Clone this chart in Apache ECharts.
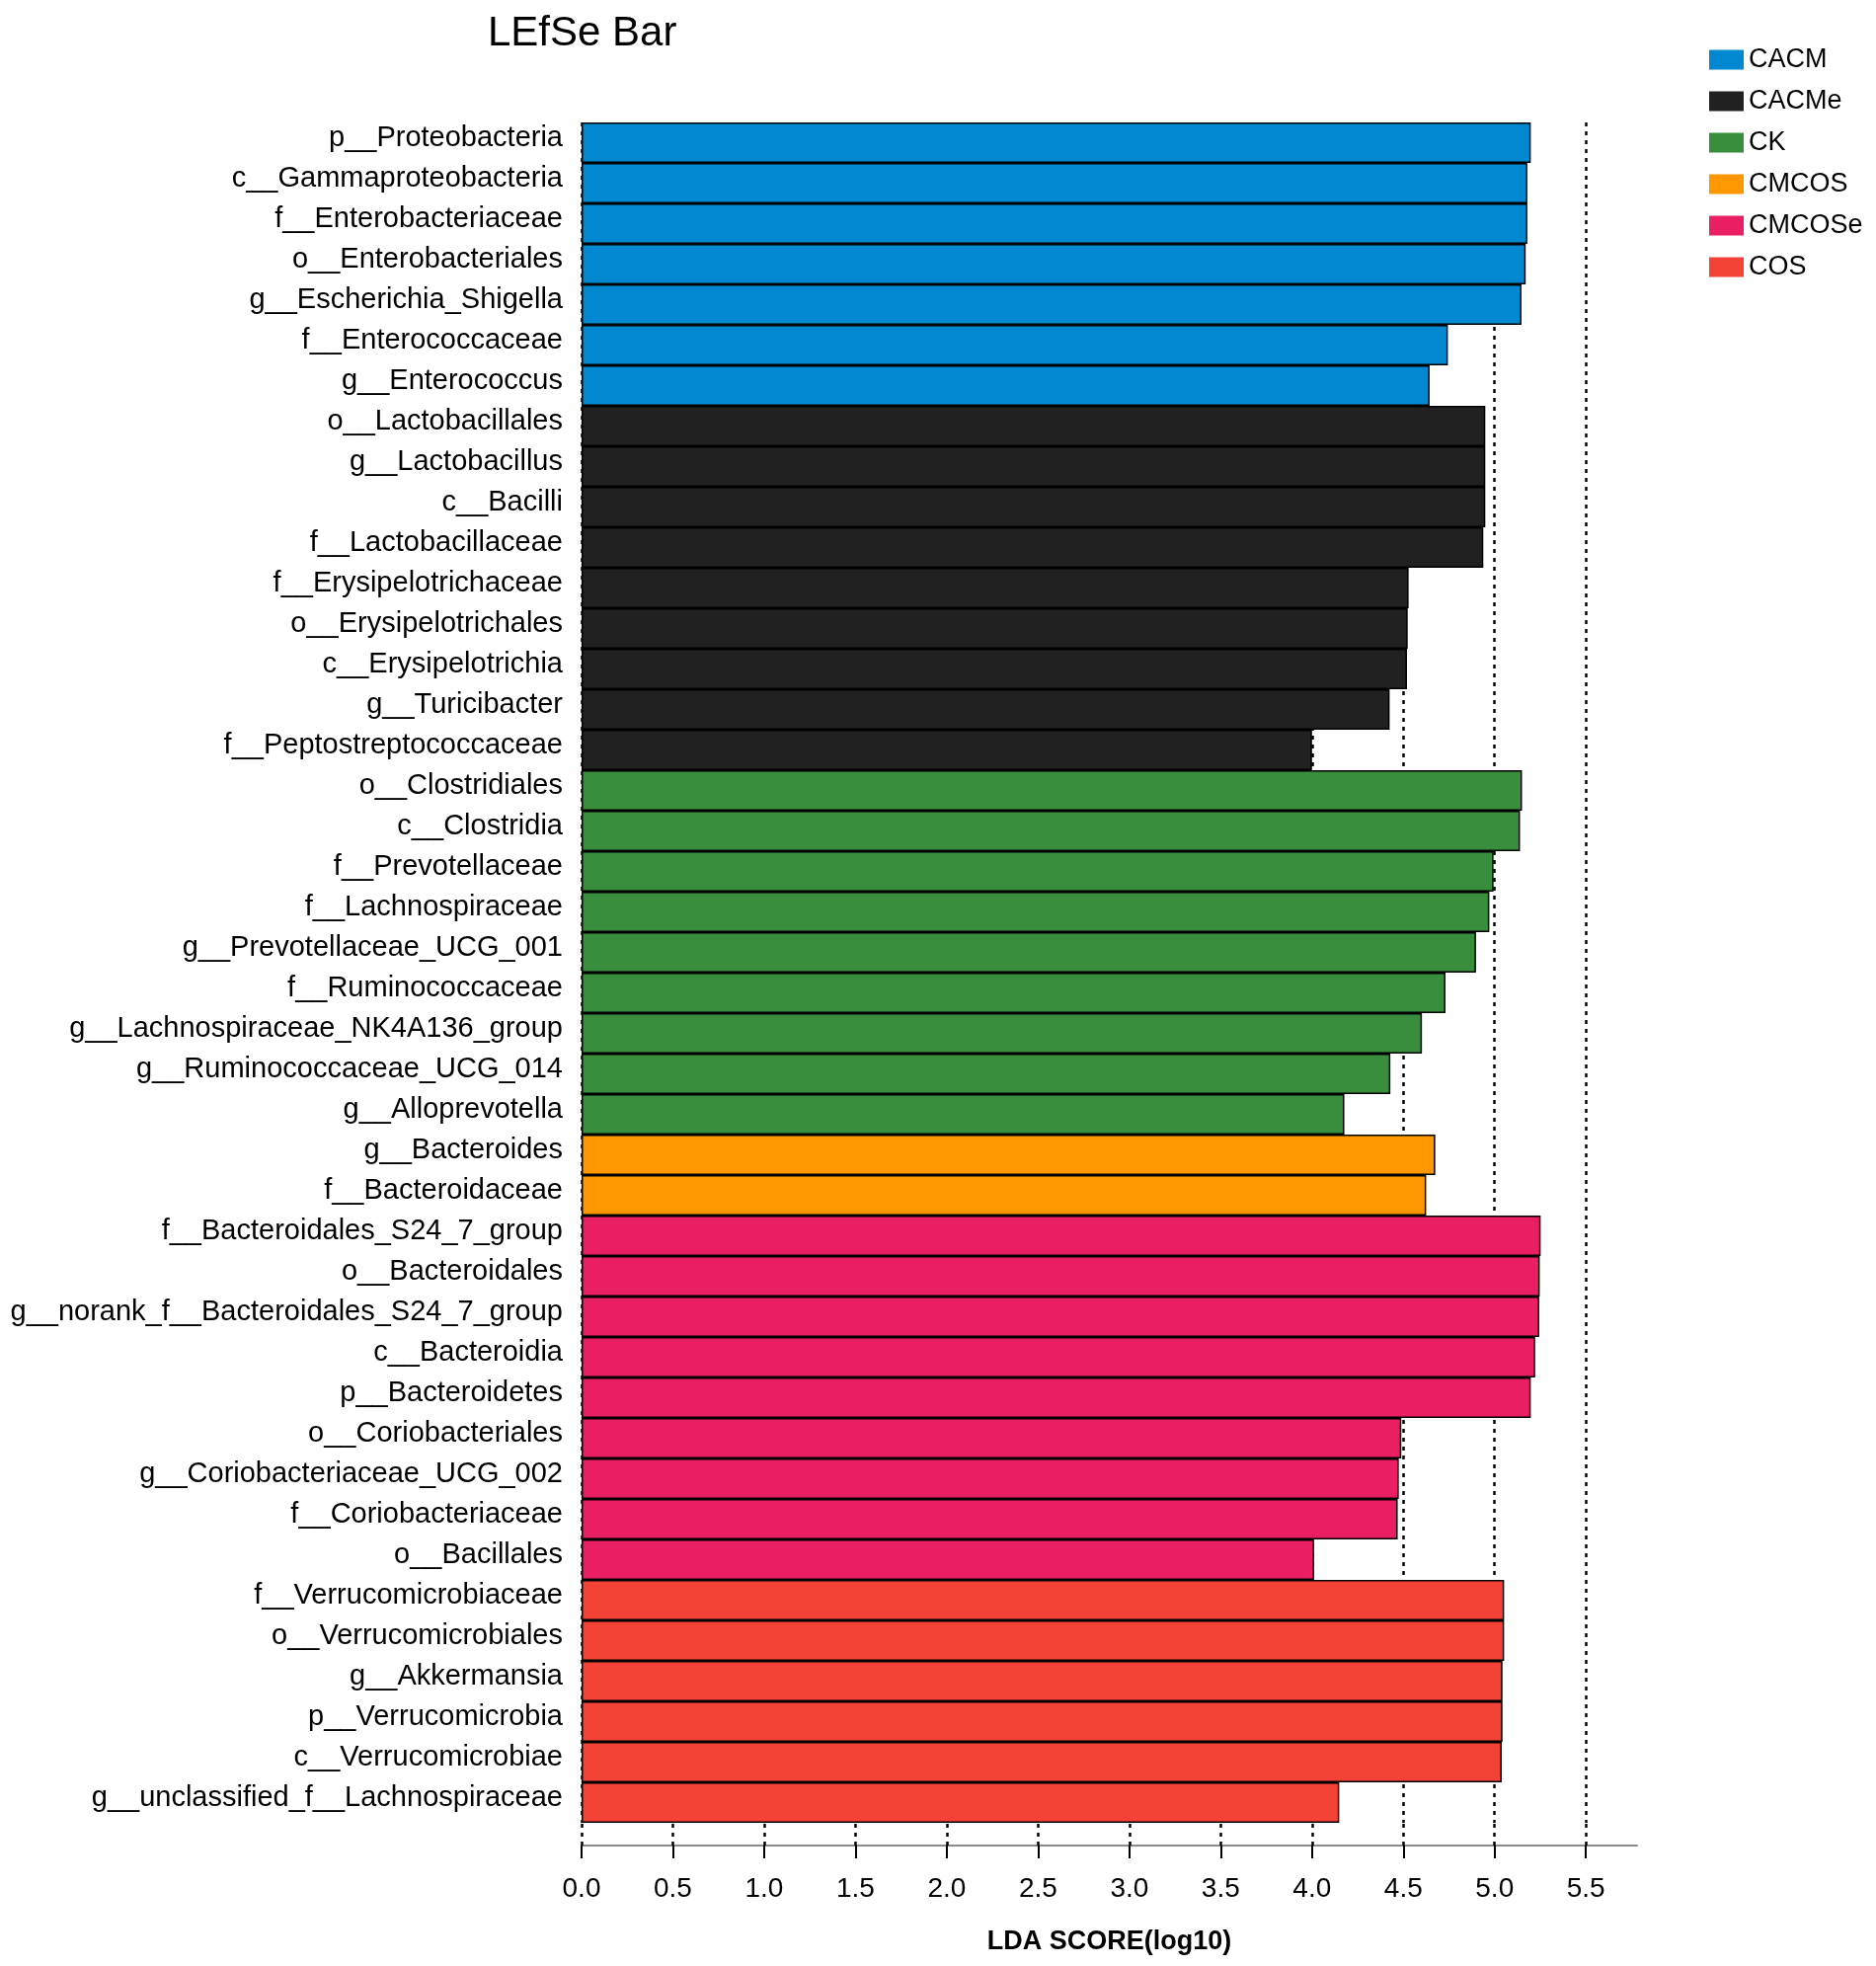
<!DOCTYPE html>
<html>
<head>
<meta charset="utf-8">
<title>LEfSe Bar</title>
<script src="https://cdn.jsdelivr.net/npm/echarts@6/dist/echarts.min.js"></script>
<style>
    html, body { margin: 0; padding: 0; background: #fff; }
    #main { width: 1900px; height: 1991px; }
</style>
</head>
<body>
<div id="main"></div>
<script>
// 类群名称（自上而下）
var taxa = [
    'p__Proteobacteria', 'c__Gammaproteobacteria', 'f__Enterobacteriaceae', 'o__Enterobacteriales',
    'g__Escherichia_Shigella', 'f__Enterococcaceae', 'g__Enterococcus',
    'o__Lactobacillales', 'g__Lactobacillus', 'c__Bacilli', 'f__Lactobacillaceae',
    'f__Erysipelotrichaceae', 'o__Erysipelotrichales', 'c__Erysipelotrichia', 'g__Turicibacter',
    'f__Peptostreptococcaceae',
    'o__Clostridiales', 'c__Clostridia', 'f__Prevotellaceae', 'f__Lachnospiraceae',
    'g__Prevotellaceae_UCG_001', 'f__Ruminococcaceae', 'g__Lachnospiraceae_NK4A136_group',
    'g__Ruminococcaceae_UCG_014', 'g__Alloprevotella',
    'g__Bacteroides', 'f__Bacteroidaceae',
    'f__Bacteroidales_S24_7_group', 'o__Bacteroidales', 'g__norank_f__Bacteroidales_S24_7_group',
    'c__Bacteroidia', 'p__Bacteroidetes', 'o__Coriobacteriales', 'g__Coriobacteriaceae_UCG_002',
    'f__Coriobacteriaceae', 'o__Bacillales',
    'f__Verrucomicrobiaceae', 'o__Verrucomicrobiales', 'g__Akkermansia', 'p__Verrucomicrobia',
    'c__Verrucomicrobiae', 'g__unclassified_f__Lachnospiraceae'
];

// LDA score
var ldaScore = [
    5.198, 5.179, 5.179, 5.170, 5.147, 4.744, 4.644,
    4.949, 4.949, 4.949, 4.938, 4.529, 4.524, 4.520, 4.425, 4.000,
    5.150, 5.139, 4.994, 4.971, 4.898, 4.731, 4.602, 4.429, 4.177,
    4.675, 4.625,
    5.252, 5.247, 5.244, 5.222, 5.198, 4.489, 4.475, 4.469, 4.011,
    5.052, 5.052, 5.043, 5.043, 5.039, 4.149
];

// 每个类群所属的分组
var taxaGroup = [
    'CACM', 'CACM', 'CACM', 'CACM', 'CACM', 'CACM', 'CACM',
    'CACMe', 'CACMe', 'CACMe', 'CACMe', 'CACMe', 'CACMe', 'CACMe', 'CACMe', 'CACMe',
    'CK', 'CK', 'CK', 'CK', 'CK', 'CK', 'CK', 'CK', 'CK',
    'CMCOS', 'CMCOS',
    'CMCOSe', 'CMCOSe', 'CMCOSe', 'CMCOSe', 'CMCOSe', 'CMCOSe', 'CMCOSe', 'CMCOSe', 'CMCOSe',
    'COS', 'COS', 'COS', 'COS', 'COS', 'COS'
];

var groups = ['CACM', 'CACMe', 'CK', 'CMCOS', 'CMCOSe', 'COS'];
var groupColors = ['#0288d1', '#212121', '#388e3c', '#ff9800', '#e91e63', '#f44336'];

// 坐标轴刻度
var tickValues = [0, 0.5, 1, 1.5, 2, 2.5, 3, 3.5, 4, 4.5, 5, 5.5];

var FONT = '"Liberation Sans", Arial, sans-serif';
var AXIS_MAX = 5.78;

var myChart = echarts.init(document.getElementById('main'));

var series = groups.map(function (g, k) {
    return {
        name: g,
        type: 'bar',
        stack: 'lda',
        xAxisIndex: 0,
        barCategoryGap: '0%',
        itemStyle: {
            color: groupColors[k],
            borderColor: '#000',
            borderWidth: 1.5
        },
        data: ldaScore.map(function (v, i) {
            return taxaGroup[i] === g ? v : '-';
        })
    };
});

var dotted = { color: '#000', width: 2.5, type: [4, 5] };

var option = {
    animation: false,
    title: {
        text: 'LEfSe Bar',
        left: 489,
        top: 8,
        textStyle: { fontFamily: FONT, fontSize: 42, fontWeight: 'normal', color: '#000' }
    },
    legend: {
        data: groups,
        orient: 'vertical',
        left: 1726,
        top: 42,
        icon: 'rect',
        itemWidth: 35,
        itemHeight: 20,
        itemGap: 15,
        itemStyle: { borderWidth: 0 },
        textStyle: { fontFamily: FONT, fontSize: 27, color: '#000' }
    },
    grid: {
        left: 589,
        right: 242,
        top: 124,
        bottom: 145
    },
    xAxis: [
        {
            // 虚线网格
            type: 'value',
            position: 'bottom',
            min: 0,
            max: AXIS_MAX,
            interval: 0.5,
            axisLine: { show: false },
            axisTick: { show: false },
            axisLabel: { show: false },
            splitLine: { show: true, showMaxLine: false, lineStyle: dotted }
        },
        {
            // 柱子与坐标轴之间的虚线
            type: 'value',
            position: 'bottom',
            min: 0,
            max: AXIS_MAX,
            interval: 0.5,
            offset: 23,
            axisLine: { show: true, lineStyle: { color: '#8a8a8a', width: 2 } },
            axisTick: { show: true, inside: true, length: 23, customValues: tickValues, lineStyle: dotted },
            axisLabel: { show: false },
            splitLine: { show: false }
        },
        {
            type: 'value',
            position: 'bottom',
            min: 0,
            max: AXIS_MAX,
            interval: 0.5,
            offset: 23,
            name: 'LDA SCORE(log10)',
            nameLocation: 'middle',
            nameGap: 84,
            nameTextStyle: { fontFamily: FONT, fontSize: 27, fontWeight: 'bold', color: '#000' },
            axisLine: { show: false },
            axisTick: { show: true, length: 13, customValues: tickValues, lineStyle: { color: '#000', width: 2 } },
            axisLabel: {
                customValues: tickValues,
                margin: 30,
                fontFamily: FONT,
                fontSize: 28,
                color: '#000',
                formatter: function (v) { return v.toFixed(1); }
            },
            splitLine: { show: false }
        }
    ],
    yAxis: {
        type: 'category',
        inverse: true,
        data: taxa,
        axisLine: { show: false },
        axisTick: { show: false },
        axisLabel: {
            margin: 19,
            verticalAlign: 'bottom',
            lineHeight: 10,
            fontFamily: FONT,
            fontSize: 29,
            color: '#000'
        }
    },
    series: series
};

myChart.setOption(option);
</script>
</body>
</html>
